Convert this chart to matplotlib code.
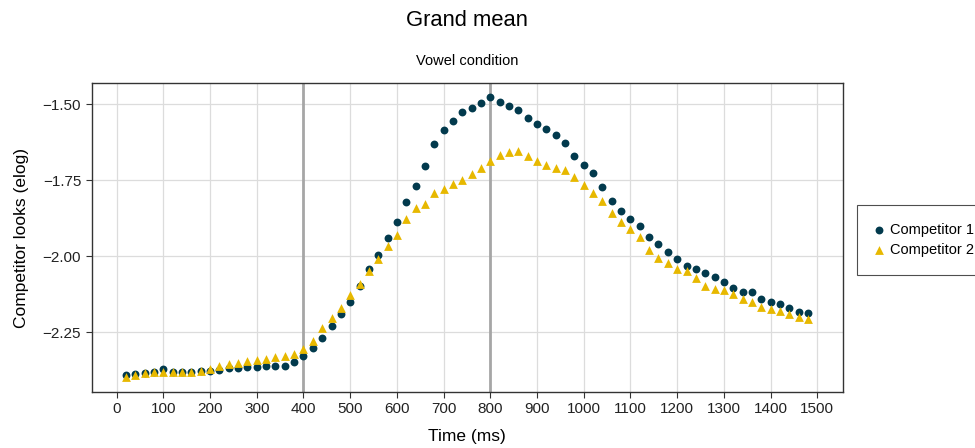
import numpy as np
import matplotlib
matplotlib.use("Agg")
import matplotlib.pyplot as plt

plt.rcParams['font.family'] = ['Liberation Sans', 'DejaVu Sans']

time_ms = np.arange(20, 1500, 20)

competitor1 = [
    -2.391, -2.387, -2.383, -2.380, -2.372, -2.380, -2.381, -2.379, -2.378, -2.378,
    -2.374, -2.367, -2.366, -2.364, -2.363, -2.361, -2.361, -2.360, -2.348, -2.328,
    -2.302, -2.269, -2.229, -2.190, -2.150, -2.097, -2.042, -1.996, -1.940, -1.887,
    -1.821, -1.769, -1.703, -1.631, -1.585, -1.555, -1.525, -1.512, -1.496, -1.476,
    -1.492, -1.506, -1.519, -1.545, -1.565, -1.581, -1.601, -1.627, -1.670, -1.701,
    -1.726, -1.772, -1.819, -1.851, -1.877, -1.901, -1.937, -1.960, -1.987, -2.010,
    -2.032, -2.042, -2.055, -2.068, -2.085, -2.104, -2.117, -2.117, -2.140, -2.150,
    -2.157, -2.171, -2.184, -2.186,
]

competitor2 = [
    -2.396, -2.389, -2.384, -2.381, -2.379, -2.380, -2.381, -2.379, -2.378, -2.370,
    -2.361, -2.354, -2.352, -2.344, -2.341, -2.337, -2.330, -2.328, -2.321, -2.306,
    -2.278, -2.234, -2.203, -2.170, -2.127, -2.090, -2.047, -2.010, -1.966, -1.930,
    -1.878, -1.842, -1.828, -1.793, -1.780, -1.762, -1.750, -1.728, -1.710, -1.687,
    -1.666, -1.656, -1.655, -1.671, -1.688, -1.701, -1.710, -1.717, -1.740, -1.766,
    -1.793, -1.819, -1.859, -1.888, -1.910, -1.936, -1.979, -2.005, -2.021, -2.043,
    -2.048, -2.071, -2.097, -2.108, -2.110, -2.125, -2.141, -2.150, -2.168, -2.172,
    -2.180, -2.189, -2.201, -2.206,
]

markers_at = [400, 800]
x_ticks = np.arange(0, 1501, 100)
y_ticks = [-2.25, -2.00, -1.75, -1.50]

fig = plt.figure(figsize=(9.75, 4.48), dpi=100)
ax = fig.add_axes([0.094, 0.1257, 0.7706, 0.6883])

for m in markers_at:
    ax.axvline(m, color="#a6a6a6", lw=2, zorder=1)

ax.scatter(time_ms, competitor1, marker="o", s=32, color="#023a4d",
           linewidths=0, label="Competitor 1", zorder=3)
ax.scatter(time_ms, competitor2, marker="^", s=40, color="#e7b800",
           linewidths=0, label="Competitor 2", zorder=3)

ax.set_xlim(-53.5, 1555)
ax.set_ylim(-2.445, -1.431)
ax.set_xticks(x_ticks)
ax.set_yticks(y_ticks)
ax.set_yticklabels(["\u22122.25", "\u22122.00", "\u22121.75", "\u22121.50"])
ax.grid(True, color="#dcdcdc", lw=0.9, zorder=0)
ax.set_axisbelow(True)
ax.tick_params(labelsize=11, length=4, color="#333333", labelcolor="#222222")
for sp in ax.spines.values():
    sp.set_color("#333333")
    sp.set_linewidth(1.0)

ax.set_xlabel("Time (ms)", fontsize=12.5, labelpad=9)
ax.set_ylabel("Competitor looks (elog)", fontsize=12.5, labelpad=10)
fig.text(0.4787, 0.955, "Grand mean", ha="center", va="center", fontsize=15.8)
ax.set_title("Vowel condition", fontsize=10.5, pad=13)

leg = fig.legend(loc="upper left", bbox_to_anchor=(856.7 / 975, 1 - 205 / 448),
                 frameon=True, fontsize=10.5, handletextpad=0.4,
                 borderpad=1.25, labelspacing=0.4, handlelength=0.6,
                 fancybox=False, markerscale=1.0, borderaxespad=0)
leg.get_frame().set_edgecolor("#222222")
leg.get_frame().set_linewidth(0.8)

fig.savefig("out.png", dpi=100)
